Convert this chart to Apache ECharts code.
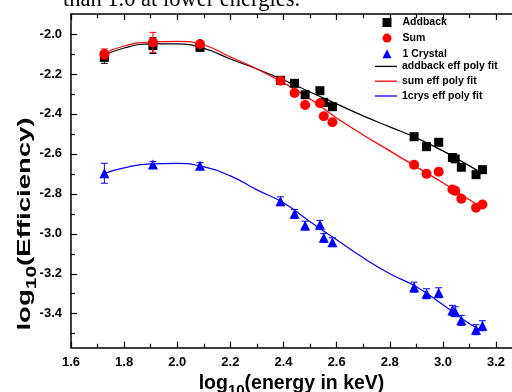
<!DOCTYPE html>
<html><head><meta charset="utf-8">
<script src="https://cdn.jsdelivr.net/npm/echarts@6/dist/echarts.min.js"></script>
<style>html,body{margin:0;padding:0;background:#fff}#c{width:512px;height:392px}</style>
</head><body><div id="c"></div>
<script>
// log10(energy in keV) of each measured line
const energyLog = [1.7256, 1.9085, 2.0856, 2.3887, 2.4415, 2.4813, 2.5370, 2.5515, 2.5841, 2.8915, 2.9382, 2.9841, 3.0358, 3.0461, 3.0693, 3.1246, 3.1486];
// log10(efficiency)
const addbackEff = [-2.117, -2.058, -2.067, -2.232, -2.247, -2.304, -2.284, -2.342, -2.364, -2.514, -2.564, -2.542, -2.618, -2.625, -2.667, -2.704, -2.679];
const sumEff     = [-2.100, -2.042, -2.050, -2.234, -2.295, -2.355, -2.347, -2.412, -2.442, -2.654, -2.700, -2.689, -2.778, -2.785, -2.825, -2.870, -2.853];
const crystalEff = [-2.697, -2.653, -2.659, -2.837, -2.900, -2.959, -2.955, -3.020, -3.042, -3.267, -3.300, -3.295, -3.383, -3.390, -3.433, -3.480, -3.460];
// error bars (half widths)
const addbackErr = [0.030, 0.040, 0.012, 0.010, 0.010, 0.010, 0.010, 0.010, 0.010, 0.010, 0.010, 0.010, 0.010, 0.010, 0.010, 0.010, 0.010];
const sumErr     = [0.025, 0.050, 0.012, 0.010, 0.010, 0.010, 0.010, 0.010, 0.010, 0.010, 0.010, 0.010, 0.010, 0.010, 0.010, 0.010, 0.010];
const crystalErr = [0.050, 0.015, 0.015, 0.022, 0.022, 0.022, 0.022, 0.022, 0.022, 0.025, 0.025, 0.025, 0.025, 0.025, 0.025, 0.025, 0.025];
// polynomial fit curves
const fitX       = [1.72, 1.80, 1.90, 2.00, 2.10, 2.20, 2.30, 2.40, 2.50, 2.60, 2.70, 2.80, 2.90, 3.00, 3.10, 3.15];
const addbackFit = [-2.110, -2.070, -2.050, -2.050, -2.072, -2.125, -2.175, -2.230, -2.290, -2.350, -2.410, -2.465, -2.520, -2.585, -2.660, -2.700];
const sumFit     = [-2.100, -2.060, -2.040, -2.037, -2.055, -2.115, -2.175, -2.245, -2.325, -2.420, -2.505, -2.585, -2.665, -2.745, -2.830, -2.875];
const crystalFit = [-2.700, -2.670, -2.650, -2.648, -2.665, -2.710, -2.780, -2.845, -2.940, -3.030, -3.120, -3.200, -3.265, -3.355, -3.450, -3.485];
// ticks
const xMajor = [1.6, 1.8, 2.0, 2.2, 2.4, 2.6, 2.8, 3.0, 3.2];
const xMinor = [1.7, 1.9, 2.1, 2.3, 2.5, 2.7, 2.9, 3.1];
const yMajor = [-3.4, -3.2, -3.0, -2.8, -2.6, -2.4, -2.2, -2.0];
const yMinor = [-3.5, -3.3, -3.1, -2.9, -2.7, -2.5, -2.3, -2.1];

const FONT = '"Liberation Sans", Arial, sans-serif';
const zip = (xs, ys) => xs.map((x, i) => [x, ys[i]]);
const errData = (ys, es) => energyLog.map((x, i) => [x, ys[i] - es[i], ys[i] + es[i]]);

function errRender(color) {
  return function (params, api) {
    const x = api.value(0);
    const lo = api.coord([x, api.value(1)]);
    const hi = api.coord([x, api.value(2)]);
    const w = 3.5;
    const st = { stroke: color, lineWidth: 1 };
    return { type: 'group', children: [
      { type: 'line', shape: { x1: lo[0], y1: lo[1], x2: hi[0], y2: hi[1] }, style: st },
      { type: 'line', shape: { x1: lo[0] - w, y1: lo[1], x2: lo[0] + w, y2: lo[1] }, style: st },
      { type: 'line', shape: { x1: hi[0] - w, y1: hi[1], x2: hi[0] + w, y2: hi[1] }, style: st }
    ]};
  };
}

const axisLine = { show: true, lineStyle: { color: '#000', width: 1.5 } };
function xAx(pos, vals, len, showLine, labels) {
  return {
    type: 'value', min: 1.6, max: 3.26, position: pos,
    axisLine: showLine ? axisLine : { show: false },
    axisTick: { show: true, inside: true, length: len, customValues: vals, lineStyle: { color: '#000', width: 1.2 } },
    axisLabel: labels ? { show: true, customValues: vals, formatter: v => v.toFixed(1), color: '#000', fontFamily: FONT, fontWeight: 'bold', fontSize: 13, margin: 8 } : { show: false },
    splitLine: { show: false }
  };
}
function yAx(vals, len, showLine, labels) {
  return {
    type: 'value', min: -3.57, max: -1.9, position: 'left',
    axisLine: showLine ? axisLine : { show: false },
    axisTick: { show: true, inside: true, length: len, customValues: vals, lineStyle: { color: '#000', width: 1.2 } },
    axisLabel: labels ? { show: true, customValues: vals, formatter: v => v.toFixed(1), color: '#000', fontFamily: FONT, fontWeight: 'bold', fontSize: 13, margin: 9 } : { show: false },
    splitLine: { show: false }
  };
}

const xBottom = xAx('bottom', xMajor, 6, true, true);
xBottom.name = '{a|log}{b|10}{a|(energy in keV)}';
xBottom.nameLocation = 'middle';
xBottom.nameGap = 14;
xBottom.nameTextStyle = {
  color: '#000',
  rich: {
    a: { fontFamily: FONT, fontWeight: 'bold', fontSize: 19.5, lineHeight: 30, verticalAlign: 'middle', color: '#000' },
    b: { fontFamily: FONT, fontWeight: 'bold', fontSize: 15, lineHeight: 30, verticalAlign: 'bottom', color: '#000' }
  }
};

const chart = echarts.init(document.getElementById('c'), null, { renderer: 'canvas' });
chart.setOption({
  animation: false,
  backgroundColor: '#fff',
  grid: { left: 71, right: 0, top: 14, bottom: 44.3, containLabel: false, outerBoundsMode: 'none' },
  xAxis: [xBottom, xAx('bottom', xMinor, 4, false, false), xAx('top', xMajor, 6, true, false), xAx('top', xMinor, 4, false, false)],
  yAxis: [yAx(yMajor, 6, true, true), yAx(yMinor, 4, false, false)],
  legend: [
    { data: ['Addback', 'Sum', '1 Crystal'], orient: 'vertical', left: 382.5, top: 16.5, padding: 0, itemWidth: 9, itemHeight: 9, itemGap: 3.6, selectedMode: false,
      textStyle: { fontFamily: FONT, fontWeight: 'bold', fontSize: 10.5, color: '#000', lineHeight: 12, padding: [0, 0, 0, 6] } },
    { data: [
        { name: 'addback eff poly fit', icon: 'rect', itemStyle: { color: '#000' } },
        { name: 'sum eff poly fit', icon: 'rect', itemStyle: { color: '#ff0000' } },
        { name: '1crys eff poly fit', icon: 'rect', itemStyle: { color: '#0000ff' } }
      ], orient: 'vertical', left: 375, top: 60.4, padding: 0, itemWidth: 22, itemHeight: 1.3, itemGap: 2.8, selectedMode: false,
      textStyle: { fontFamily: FONT, fontWeight: 'bold', fontSize: 10.5, color: '#000', lineHeight: 12 } }
  ],
  graphic: [
    { type: 'text', x: 63, y: 0, style: { text: 'than 1.0 at lower energies.', font: '22.5px "Liberation Serif", "Times New Roman", serif', fill: '#000', verticalAlign: 'middle' } },
    { type: 'text', x: 25, y: 224, rotation: Math.PI / 2, scaleX: 1.45,
      style: { text: '{a|log}{b|10}{a|(Efficiency)}', align: 'center', verticalAlign: 'middle', fill: '#000',
        rich: {
          a: { fontFamily: FONT, fontWeight: 'bold', fontSize: 19, lineHeight: 28, verticalAlign: 'middle', fill: '#000' },
          b: { fontFamily: FONT, fontWeight: 'bold', fontSize: 14.5, lineHeight: 28, verticalAlign: 'bottom', fill: '#000' }
        } } }
  ],
  series: [
    { name: 'addback eff poly fit', type: 'line', data: zip(fitX, addbackFit), smooth: true, symbol: 'none', lineStyle: { color: '#000', width: 1.2 }, itemStyle: { color: '#000' }, z: 1 },
    { name: 'sum eff poly fit', type: 'line', data: zip(fitX, sumFit), smooth: true, symbol: 'none', lineStyle: { color: '#ff0000', width: 1.2 }, itemStyle: { color: '#ff0000' }, z: 1 },
    { name: '1crys eff poly fit', type: 'line', data: zip(fitX, crystalFit), smooth: true, symbol: 'none', lineStyle: { color: '#0000ff', width: 1.2 }, itemStyle: { color: '#0000ff' }, z: 1 },
    { type: 'custom', data: errData(addbackEff, addbackErr), renderItem: errRender('#000'), encode: { x: 0, y: [1, 2] }, z: 2, silent: true },
    { type: 'custom', data: errData(sumEff, sumErr), renderItem: errRender('#ff0000'), encode: { x: 0, y: [1, 2] }, z: 4, silent: true },
    { type: 'custom', data: errData(crystalEff, crystalErr), renderItem: errRender('#0000ff'), encode: { x: 0, y: [1, 2] }, z: 2, silent: true },
    { name: 'Addback', type: 'scatter', data: zip(energyLog, addbackEff), symbol: 'rect', symbolSize: 9, itemStyle: { color: '#000', opacity: 1 }, z: 3 },
    { name: 'Sum', type: 'scatter', data: zip(energyLog, sumEff), symbol: 'circle', symbolSize: 10, itemStyle: { color: '#ff0000', opacity: 1 }, z: 5 },
    { name: '1 Crystal', type: 'scatter', data: zip(energyLog, crystalEff), symbol: 'triangle', symbolSize: 10, itemStyle: { color: '#0000ff', opacity: 1 }, z: 3 }
  ]
});
</script>
</body></html>
